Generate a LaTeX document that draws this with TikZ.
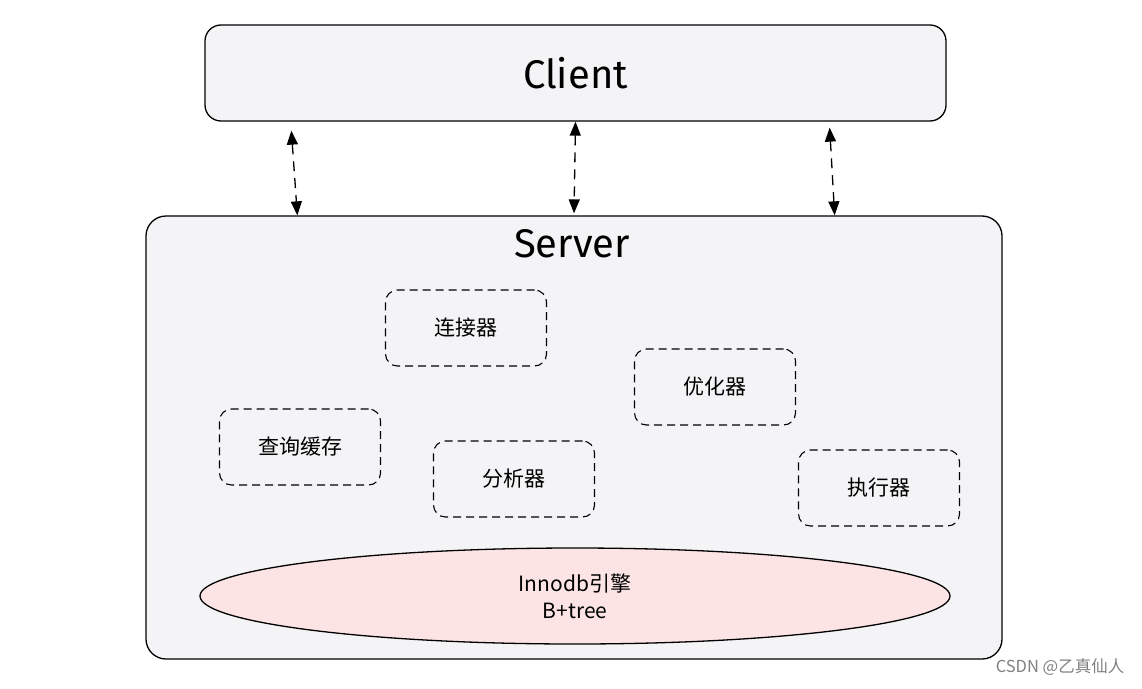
\documentclass[tikz,border=0pt]{standalone}
\usepackage{fontspec}
\setmainfont{Fira Sans}
\newfontfamily\cjk{Noto Sans CJK SC}
\usepackage{tikz}
\usetikzlibrary{shapes.geometric, arrows.meta}
\definecolor{boxfill}{RGB}{244,244,246}
\definecolor{enginefill}{RGB}{252,228,228}

\begin{document}
\begin{tikzpicture}[x=1pt, y=-1pt,
	frame/.style={rectangle, rounded corners=16pt, draw, line width=1.3pt, fill=boxfill},
	part/.style={rectangle, rounded corners=12pt, draw, dashed, dash pattern=on 8pt off 5pt, line width=1.1pt, fill=boxfill, minimum width=161pt, minimum height=76pt, font=\cjk\fontsize{21}{25}\selectfont},
	link/.style={dashed, dash pattern=on 10pt off 7pt, line width=1.3pt, {Triangle[length=14pt,width=11pt]}-{Triangle[length=14pt,width=11pt]}}]

	\useasboundingbox (0, 0) rectangle (1142, 688);

	\node (client) [frame, minimum width=741pt, minimum height=96pt, font=\fontsize{40}{48}\selectfont] at (575.5, 73) {Client};
	\node (server) [frame, rounded corners=20pt, minimum width=856pt, minimum height=443pt] at (574, 437.5) {};
	\node (title) [font=\fontsize{40}{48}\selectfont] at (572, 244) {Server};

	\node (conn) [part] at (466, 328) {连接器};
	\node (opt) [part] at (715, 387) {优化器};
	\node (cache) [part] at (300, 447) {查询缓存};
	\node (parser) [part] at (514, 479) {分析器};
	\node (exec) [part] at (879, 488) {执行器};

	\node (engine) [ellipse, draw, line width=1.3pt, fill=enginefill, minimum width=750pt, minimum height=96pt, align=center, font=\cjk\fontsize{21}{27}\selectfont] at (575, 596) {Innodb引擎\\B+tree};

	\node (mark) [text=gray, font=\cjk\fontsize{16.5}{19}\selectfont] at (1060, 667) {CSDN @乙真仙人};

	\path[link]
	([xshift=87pt, yshift=-9pt]client.south west) edge ([xshift=152pt]server.north west)
	(client.south) edge ([yshift=2pt]server.north)
	([xshift=-117pt, yshift=-6pt]client.south east) edge ([xshift=-168pt]server.north east);

\end{tikzpicture}
\end{document}
